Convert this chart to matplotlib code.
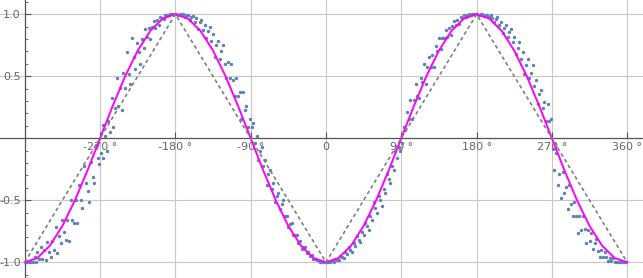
import matplotlib.pyplot as plt

# smooth reference curve, read every 15 degrees
curve_x = [-360, -345, -330, -315, -300, -285, -270, -255, -240, -225, -210, -195, -180,
           -165, -150, -135, -120, -105, -90, -75, -60, -45, -30, -15, 0,
           15, 30, 45, 60, 75, 90, 105, 120, 135, 150, 165, 180,
           195, 210, 225, 240, 255, 270, 285, 300, 315, 330, 345, 360]
curve_y = [-1.0, -0.966, -0.866, -0.707, -0.5, -0.259, 0.0, 0.259, 0.5, 0.707, 0.866, 0.966, 1.0,
           0.966, 0.866, 0.707, 0.5, 0.259, 0.0, -0.259, -0.5, -0.707, -0.866, -0.966, -1.0,
           -0.966, -0.866, -0.707, -0.5, -0.259, 0.0, 0.259, 0.5, 0.707, 0.866, 0.966, 1.0,
           0.966, 0.866, 0.707, 0.5, 0.259, 0.0, -0.259, -0.5, -0.707, -0.866, -0.966, -1.0]

# triangle wave (dashed)
tri_x = [-360, -180, 0, 180, 360]
tri_y = [-1.0, 1.0, -1.0, 1.0, -1.0]

# measured points
pts_x = [
    -359, -357, -355, -352, -350, -348, -346, -345, -343, -341, -339, -337, -335, -333, -331,
    -329, -327, -325, -323, -321, -319, -317, -315, -313, -311, -309, -307, -305, -303, -301,
    -299, -297, -295, -293, -291, -289, -287, -285, -283, -281, -279, -277, -275, -273, -271,
    -269, -267, -266, -264, -262, -260, -258, -256, -254, -252, -250, -248, -246, -244, -242,
    -240, -238, -236, -234, -232, -230, -228, -226, -224, -222, -220, -218, -216, -214, -212,
    -210, -208, -206, -204, -202, -200, -198, -196, -194, -192, -190, -188, -186, -184, -182,
    -179, -177, -175, -173, -171, -169, -167, -165, -163, -161, -159, -157, -155, -153, -151,
    -149, -147, -145, -143, -141, -139, -137, -135, -133, -131, -129, -127, -125, -123, -121,
    -119, -117, -115, -113, -111, -109, -107, -105, -103, -101, -99, -97, -95, -93, -91,
    -89, -87, -85, -83, -81, -79, -77, -75, -73, -71, -69, -67, -65, -63, -61,
    -59, -57, -55, -53, -51, -49, -47, -45, -43, -41, -39, -37, -35, -33, -31,
    -29, -27, -25, -23, -21, -19, -17, -15, -13, -11, -9, -7, -5, -3, -1,
    1, 3, 5, 7, 9, 11, 13, 15, 17, 19, 21, 23, 25, 27, 29,
    31, 33, 35, 37, 39, 41, 43, 45, 47, 49, 51, 53, 55, 57, 59,
    61, 63, 65, 67, 69, 71, 73, 75, 77, 79, 81, 83, 85, 87, 89,
    91, 93, 95, 97, 99, 101, 103, 105, 107, 109, 111, 113, 115, 117, 119,
    121, 123, 125, 127, 129, 131, 133, 135, 137, 139, 141, 143, 145, 147, 149,
    151, 153, 155, 157, 159, 161, 163, 165, 167, 169, 171, 173, 175, 177, 179,
    181, 183, 185, 187, 189, 191, 193, 195, 197, 199, 201, 203, 205, 207, 209,
    211, 213, 215, 217, 219, 221, 223, 225, 227, 229, 231, 233, 235, 237, 239,
    241, 243, 245, 247, 249, 251, 253, 255, 257, 259, 261, 263, 265, 267, 269,
    271, 273, 275, 277, 279, 281, 283, 285, 287, 289, 291, 293, 295, 297, 299,
    301, 303, 305, 307, 309, 311, 313, 315, 317, 319, 321, 323, 325, 327, 329,
    331, 333, 335, 337, 339, 341, 343, 345, 347, 349, 351, 353, 355, 357, 359,
]
pts_y = [
    -1.0, -0.996, -1.0, -1.0, -1.0, -0.961, -1.0, -0.921, -0.974, -0.875, -0.970, -0.899, -0.978, -0.839, -0.914,
    -0.961, -0.829, -0.899, -0.719, -0.927, -0.788, -0.848, -0.656, -0.755, -0.819, -0.656, -0.829, -0.500, -0.656, -0.682,
    -0.500, -0.682, -0.375, -0.500, -0.559, -0.225, -0.358, -0.423, -0.515, -0.191, -0.309, -0.358, -0.052, -0.156, -0.208,
    -0.122, -0.156, 0.105, 0.017, -0.105, 0.139, 0.052, 0.326, 0.087, 0.242, 0.485, 0.259, 0.407, 0.225, 0.530,
    0.407, 0.695, 0.515, 0.438, 0.809, 0.656, 0.559, 0.766, 0.695, 0.602, 0.799, 0.731, 0.883, 0.819, 0.891,
    0.799, 0.899, 0.946, 0.891, 0.951, 0.914, 0.978, 0.966, 0.961, 0.993, 0.993, 0.990, 0.999, 0.999, 0.999,
    1.0, 0.998, 1.0, 0.995, 0.999, 0.974, 0.990, 0.995, 0.956, 0.978, 0.988, 0.940, 0.966, 0.883, 0.934,
    0.956, 0.875, 0.914, 0.809, 0.866, 0.899, 0.788, 0.839, 0.656, 0.755, 0.788, 0.643, 0.707, 0.755, 0.602,
    0.485, 0.616, 0.485, 0.602, 0.469, 0.342, 0.485, 0.342, 0.375, 0.156, 0.375, 0.225, 0.259, 0.087, 0.156,
    0.087, 0.122, -0.035, 0.017, -0.174, -0.105, -0.070, -0.225, -0.174, -0.375, -0.292, -0.259, -0.407, -0.358, -0.515,
    -0.469, -0.438, -0.574, -0.530, -0.500, -0.629, -0.629, -0.719, -0.695, -0.682, -0.777, -0.777, -0.777, -0.848, -0.829,
    -0.891, -0.875, -0.875, -0.927, -0.921, -0.946, -0.940, -0.974, -0.970, -0.985, -0.982, -0.996, -0.996, -0.998, -1.0,
    -1.0, -0.998, -0.999, -0.993, -0.996, -0.974, -0.982, -0.985, -0.951, -0.961, -0.966, -0.921, -0.934, -0.875, -0.899,
    -0.914, -0.848, -0.866, -0.788, -0.819, -0.839, -0.755, -0.777, -0.682, -0.707, -0.743, -0.629, -0.656, -0.515, -0.559,
    -0.602, -0.469, -0.500, -0.545, -0.407, -0.438, -0.292, -0.326, -0.358, -0.225, -0.259, -0.105, -0.156, -0.070, -0.105,
    -0.035, 0.087, 0.070, 0.208, 0.156, 0.309, 0.156, 0.309, 0.438, 0.342, 0.326, 0.485, 0.454, 0.602, 0.438,
    0.574, 0.656, 0.574, 0.669, 0.574, 0.743, 0.707, 0.809, 0.719, 0.809, 0.809, 0.875, 0.819, 0.891, 0.829,
    0.906, 0.946, 0.914, 0.951, 0.921, 0.974, 0.970, 0.990, 0.974, 0.993, 0.999, 0.996, 1.0, 0.999, 0.999,
    1.0, 0.996, 0.999, 1.0, 0.985, 0.993, 0.996, 0.974, 0.993, 0.970, 0.934, 0.961, 0.974, 0.914, 0.940,
    0.848, 0.891, 0.914, 0.819, 0.857, 0.883, 0.777, 0.819, 0.682, 0.731, 0.777, 0.643, 0.695, 0.515, 0.588,
    0.643, 0.485, 0.530, 0.588, 0.423, 0.469, 0.276, 0.358, 0.391, 0.242, 0.292, 0.139, 0.276, 0.139, 0.156,
    -0.087, -0.259, -0.122, -0.375, -0.292, -0.485, -0.276, -0.438, -0.391, -0.574, -0.375, -0.530, -0.629, -0.515, -0.629,
    -0.766, -0.629, -0.743, -0.629, -0.731, -0.848, -0.743, -0.829, -0.766, -0.891, -0.848, -0.809, -0.906, -0.956, -0.899,
    -0.956, -0.914, -0.961, -0.990, -0.966, -0.990, -0.966, -0.999, -0.996, -1.0, -0.996, -1.0, -0.999, -0.999, -1.0,
]

x_ticks = [-270, -180, -90, 0, 90, 180, 270, 360]
x_labels = ['-270 \u00b0', '-180 \u00b0', '-90 \u00b0', '0', '90 \u00b0', '180 \u00b0', '270 \u00b0', '360 \u00b0']
y_ticks = [-1.0, -0.5, 0.5, 1.0]
y_labels = ['-1.0', '-0.5', '0.5', '1.0']
y_minor = [-1.1, -0.9, -0.8, -0.7, -0.6, -0.4, -0.3, -0.2, -0.1, 0.1, 0.2, 0.3, 0.4, 0.6, 0.7, 0.8, 0.9, 1.1]

fig = plt.figure(figsize=(6.43, 2.78), dpi=100)
ax = fig.add_axes([0, 0, 1, 1])

ax.scatter(pts_x, pts_y, s=6, color='#5E81B5', linewidths=0, zorder=2)
ax.plot(curve_x, curve_y, color='#FF00FF', lw=1.4, zorder=3)
ax.plot(tri_x, tri_y, color='#7F7F7F', lw=1.2, linestyle=(0, (2.2, 1.8)), zorder=3)

ax.set_xlim(-389.6, 378.9)
ax.set_ylim(-1.127, 1.115)

for s in ['top', 'right']:
    ax.spines[s].set_visible(False)
ax.spines['left'].set_position(('data', -360))
ax.spines['bottom'].set_position(('data', 0))
for s in ['left', 'bottom']:
    ax.spines[s].set_color('#555555')
    ax.spines[s].set_linewidth(0.9)

ax.set_xticks(x_ticks)
ax.set_xticklabels(x_labels)
ax.set_yticks(y_ticks)
ax.set_yticklabels(y_labels)
ax.set_yticks(y_minor, minor=True)
ax.tick_params(axis='both', which='major', direction='in', length=4, width=0.8,
               color='#555555', labelcolor='#666666', labelsize=8, pad=3)
ax.tick_params(axis='y', which='minor', direction='in', length=2, width=0.6, color='#555555')

ax.grid(True, which='major', color='#C8C8C8', lw=0.8, zorder=0)
ax.set_axisbelow(True)

fig.savefig('out.png', dpi=100)
